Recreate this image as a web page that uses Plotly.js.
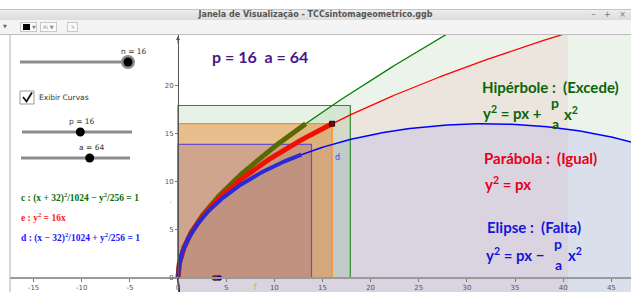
<!DOCTYPE html>
<html>
<head>
<meta charset="utf-8">
<script src="https://cdn.plot.ly/plotly-3.0.1.min.js"></script>
<style>
  html, body { margin:0; padding:0; background:#fff; }
  #wrap { position:relative; width:631px; height:292px; overflow:hidden; font-family:"DejaVu Sans", sans-serif; }
  #chart { position:absolute; left:0; top:0; width:631px; height:292px; }
  #titlebar { position:absolute; left:0; top:9px; width:631px; height:11px; background:linear-gradient(#ececec,#dcdcdc); border-top:1px solid #c4c4c4; box-sizing:border-box; }
  #titlebar .t { position:absolute; left:0; width:631px; top:0px; text-align:center; font-size:8px; font-weight:bold; color:#555; line-height:10px; }
  #titlebar .w { position:absolute; right:2px; top:0; font-size:8px; color:#777; line-height:10px; letter-spacing:3px; }
  #toolbar { position:absolute; left:0; top:20px; width:631px; height:15px; background:#f4f4f4; border-bottom:1px solid #bdbdbd; box-sizing:border-box; }
  .btn { position:absolute; top:2px; height:10px; border:1px solid #c8c8c8; background:#fafafa; box-sizing:border-box; font-size:5px; color:#888; line-height:8px; }
</style>
</head>
<body>
<div id="wrap">
  <div id="chart"></div>
  <div id="titlebar"><div class="t">Janela de Visualização - TCCsintomageometrico.ggb</div><div class="w">– + ×</div></div>
  <div id="toolbar">
    <div style="position:absolute;left:3px;top:3px;font-size:5px;color:#666;">▼</div>
    <div class="btn" style="left:20px;width:17px;"><div style="position:absolute;left:2px;top:1px;width:7px;height:6px;background:#000;"></div><span style="position:absolute;left:11px;">▼</span></div>
    <div class="btn" style="left:40px;width:17px;"><span style="position:absolute;left:2px;">A\ ▼</span></div>
    <div class="btn" style="left:67px;width:11px;"><span style="position:absolute;left:3px;color:#aaa;">✎</span></div>
  </div>
</div>
<script>
// ---------- data ----------
const P = 16;              // parameter p
const A = 64;              // parameter a
const N = 16;              // slider n
const sliderNames  = ['n', 'p', 'a'];
const sliderValues = [16, 16, 64];
const sliderKnobFrac = [1.0, 0.53, 0.63];     // knob position along each slider
const squareX = 16;                            // x where squares are built
const squareSides = [17.89, 16.0, 13.86];      // hyperbola, parabola, ellipse square sides
const fociX = [3.78, 4.00, 4.29];              // foci of c, e, d
const thickEndY = [16.0, 16.0, 12.8];          // end of the thick portion of each curve
const parabolaFillEndX = 40.5;                 // parabola fill ends here
const xTicks = [-15, -10, -5, 0, 5, 10, 15, 20, 25, 30, 35, 40, 45];
const yTicks = [0, 5, 10, 15, 20];
const curveColors = ['#008000', '#ff0000', '#0000ff'];

// ---------- view ----------
const W = 631, H = 292, ML = 10, MT = 35;
const PW = W - ML, PH = H - MT;
const XR = [-17.45, 47.04], YR = [-1.45, 25.2];
const dx = px => XR[0] + (px - ML) / PW * (XR[1] - XR[0]);
const dy = py => YR[1] - (py - MT) / PH * (YR[1] - YR[0]);

// ---------- curves from the displayed equations ----------
function hypX(y) { return -32 + 32 * Math.sqrt(1 + y * y / 256); }   // (x+32)^2/1024 - y^2/256 = 1
function parX(y) { return y * y / P; }                                // y^2 = px
function ellPts(t) { return [32 + 32 * Math.cos(t), 16 * Math.sin(t)]; } // (x-32)^2/1024 + y^2/256 = 1

function rangeArr(a, b, n) { const r = []; for (let i = 0; i <= n; i++) r.push(a + (b - a) * i / n); return r; }

const traces = [];
// conic interior fills
{
  const ys = rangeArr(-4, 30, 300);
  const xs = ys.map(hypX);
  traces.push({x: xs.concat([70, 70]), y: ys.concat([30, -4]), type:'scatter', mode:'lines', fill:'toself',
    fillcolor:'rgba(0,100,0,0.08)', line:{width:0}, hoverinfo:'skip'});
}
{
  const ym = Math.sqrt(P * parabolaFillEndX);
  const ys = rangeArr(-ym, ym, 300);
  traces.push({x: ys.map(parX), y: ys, type:'scatter', mode:'lines', fill:'toself',
    fillcolor:'rgba(255,0,0,0.055)', line:{width:0}, hoverinfo:'skip'});
}
{
  const ts = rangeArr(0, 2 * Math.PI, 400);
  const pts = ts.map(ellPts);
  traces.push({x: pts.map(p => p[0]), y: pts.map(p => p[1]), type:'scatter', mode:'lines', fill:'toself',
    fillcolor:'rgba(0,0,255,0.075)', line:{width:0}, hoverinfo:'skip'});
}
// squares
const sqFill = ['rgba(0,128,0,0.10)', 'rgba(235,120,20,0.42)', 'rgba(80,40,140,0.16)'];
const sqLine = ['#2e8b2e', '#ff8c1a', '#6a4fc8'];
squareSides.forEach((s, i) => {
  traces.push({x:[0, s, s, 0, 0], y:[0, 0, s, s, 0], type:'scatter', mode:'lines', fill:'toself',
    fillcolor: sqFill[i], line:{color: sqLine[i], width:1.2}, hoverinfo:'skip'});
});
// curve lines
{
  const ys = rangeArr(-4, 30, 400);
  traces.push({x: ys.map(hypX), y: ys, type:'scatter', mode:'lines', line:{color:curveColors[0], width:1.3}, hoverinfo:'skip'});
  traces.push({x: ys.map(parX), y: ys, type:'scatter', mode:'lines', line:{color:curveColors[1], width:1.3}, hoverinfo:'skip'});
  const pts = rangeArr(0, 2 * Math.PI, 600).map(ellPts);
  traces.push({x: pts.map(p => p[0]), y: pts.map(p => p[1]), type:'scatter', mode:'lines', line:{color:curveColors[2], width:1.5}, hoverinfo:'skip'});
}
// thick portions
{
  const yg = rangeArr(0, thickEndY[0], 120);
  traces.push({x: yg.map(hypX), y: yg, type:'scatter', mode:'lines', line:{color:'#5a6a00', width:5}, hoverinfo:'skip'});
  const yr = rangeArr(0, thickEndY[1], 120);
  traces.push({x: yr.map(parX), y: yr, type:'scatter', mode:'lines', line:{color:'#f01000', width:5}, hoverinfo:'skip'});
  const te = rangeArr(Math.PI, Math.PI - Math.asin(thickEndY[2] / 16), 120);
  const pe = te.map(ellPts);
  traces.push({x: pe.map(p => p[0]), y: pe.map(p => p[1]), type:'scatter', mode:'lines', line:{color:'#2a2ad8', width:4}, hoverinfo:'skip'});
}
// foci
traces.push({x: fociX, y: [0, 0, 0], type:'scatter', mode:'markers',
  marker:{size:5, color: curveColors, line:{color:'#222', width:0.6}}, hoverinfo:'skip'});
// point (16,16)
traces.push({x:[squareX], y:[squareSides[1]], type:'scatter', mode:'markers',
  marker:{size:5, symbol:'square', color:'#8b0000', line:{color:'#000', width:0.8}}, hoverinfo:'skip'});

// ---------- annotations ----------
const ann = [];
function txt(px, py, text, opts) {
  ann.push(Object.assign({x: dx(px), y: dy(py), xref:'x', yref:'y', text: text, showarrow:false,
    xanchor:'left', yanchor:'middle', font:{size:8, color:'#333', family:'DejaVu Sans'}}, opts || {}));
}
const S = '&#160;';
const f = (size, color) => ({font:{size:size, color:color, family:'Lato'}});
const G = '#0a640a', R = '#e6001a', B = '#1414dc';
txt(210, 56, '<b>p' + S + '=' + S + '16' + S + S + 'a' + S + '=' + S + '64</b>', f(16, '#4b1488'));
txt(480, 87, '<b>Hipérbole' + S + ':' + S + S + '(Excede)</b>', f(15, G));
txt(481, 112, '<b>y<sup>2</sup>' + S + '=' + S + 'px' + S + '+</b>', f(15, G));
txt(555, 102, '<b>p</b>', Object.assign({xanchor:'center'}, f(14, G)));
txt(555, 123, '<b>a</b>', Object.assign({xanchor:'center'}, f(14, G)));
txt(562, 113, '<b>x<sup>2</sup></b>', f(15, G));
txt(482, 158, '<b>Parábola' + S + ':' + S + S + '(Igual)</b>', f(15, R));
txt(483, 183, '<b>y<sup>2</sup>' + S + '=' + S + 'px</b>', f(15, R));
txt(485, 227, '<b>Elipse' + S + ':' + S + S + '(Falta)</b>', f(15, B));
txt(484, 254, '<b>y<sup>2</sup>' + S + '=' + S + 'px' + S + '−</b>', f(15, B));
txt(558, 243, '<b>p</b>', Object.assign({xanchor:'center'}, f(14, B)));
txt(558, 264, '<b>a</b>', Object.assign({xanchor:'center'}, f(14, B)));
txt(566, 254, '<b>x<sup>2</sup></b>', f(15, B));
// small labels
txt(333, 157, 'd', {font:{size:8, color:'#3a3aff', family:'DejaVu Sans'}});
txt(252, 287, 'f', {font:{size:8, color:'#ff9a30', family:'DejaVu Sans'}});
txt(168, 201, 'ı', {font:{size:6, color:'#ffb060', family:'DejaVu Sans'}});
// left panel equations
const serif = (c) => ({font:{size:9.5, color:c, family:'Liberation Serif'}});
txt(19, 197, '<b>c : (x + 32)<sup>2</sup>/1024 − y<sup>2</sup>/256 = 1</b>', serif('#0a6e0a'));
txt(19, 217, '<b>e : y<sup>2</sup> = 16x</b>', serif('#ff2020'));
txt(19, 237, '<b>d : (x − 32)<sup>2</sup>/1024 + y<sup>2</sup>/256 = 1</b>', serif('#1a1aff'));
// sliders
const sliderPx = [[20, 128, 62], [22, 132, 132], [21, 130, 158]];
const shapes = [];
sliderNames.forEach((nm, i) => {
  const [x0, x1, y] = sliderPx[i];
  shapes.push({type:'line', xref:'x', yref:'y', x0: dx(x0), x1: dx(x1), y0: dy(y), y1: dy(y), line:{color:'#8c8c8c', width:3}});
  const kx = x0 + (x1 - x0) * sliderKnobFrac[i];
  if (i === 0) {
    shapes.push({type:'circle', xref:'x', yref:'y', x0: dx(kx - 7), x1: dx(kx + 7), y0: dy(y + 7), y1: dy(y - 7), fillcolor:'#8a8a8a', line:{width:0}});
  }
  shapes.push({type:'circle', xref:'x', yref:'y', x0: dx(kx - 4.5), x1: dx(kx + 4.5), y0: dy(y + 4.5), y1: dy(y - 4.5), fillcolor:'#000', line:{width:0}});
  txt(kx + (i === 0 ? 6 : 2), y - 11, nm + ' = ' + sliderValues[i], {xanchor:'center', font:{size:7.5, color:'#333', family:'DejaVu Sans'}});
});
// checkbox
shapes.push({type:'rect', xref:'x', yref:'y', x0: dx(20), x1: dx(34), y0: dy(104), y1: dy(91), fillcolor:'#fff', line:{color:'#999', width:1}});
shapes.push({type:'path', xref:'x', yref:'y', path:`M ${dx(23)},${dy(97)} L ${dx(26.5)},${dy(101.5)} L ${dx(32)},${dy(92.5)}`, line:{color:'#111', width:1.8}});
txt(37, 97, 'Exibir Curvas', {font:{size:7.5, color:'#333', family:'DejaVu Sans'}});
// panel border and y-axis arrow
shapes.push({type:'line', xref:'paper', yref:'paper', x0:0, x1:0, y0:0, y1:1, line:{color:'#b0b0b0', width:1}});
ann.push({x:0, y: YR[1] - 0.1, xref:'x', yref:'y', ax:0, ay:9, text:'', showarrow:true, arrowhead:2, arrowsize:0.8, arrowwidth:1, arrowcolor:'#555'});

const layout = {
  width: W, height: H,
  margin: {l: ML, r: 0, t: MT, b: 0, pad: 0},
  paper_bgcolor: '#ffffff', plot_bgcolor: '#ffffff',
  showlegend: false,
  xaxis: {range: XR, anchor:'free', position: (0 - YR[0]) / (YR[1] - YR[0]),
    showgrid:false, zeroline:false, showline:true, linecolor:'#9a9a9a', linewidth:2,
    tickvals: xTicks, ticktext: xTicks.map(String), ticks:'outside', ticklen:3, tickcolor:'#777', tickwidth:1,
    tickfont:{size:7, color:'#555', family:'DejaVu Sans'}, fixedrange:true},
  yaxis: {range: YR, anchor:'free', position: (0 - XR[0]) / (XR[1] - XR[0]),
    showgrid:false, zeroline:false, showline:true, linecolor:'#555', linewidth:1.2,
    tickvals: yTicks, ticktext: yTicks.map(String), ticks:'outside', ticklen:3, tickcolor:'#777', tickwidth:1,
    tickfont:{size:7, color:'#555', family:'DejaVu Sans'}, fixedrange:true},
  annotations: ann,
  shapes: shapes
};
Plotly.newPlot('chart', traces, layout, {displayModeBar:false, staticPlot:true});
</script>
</body>
</html>
